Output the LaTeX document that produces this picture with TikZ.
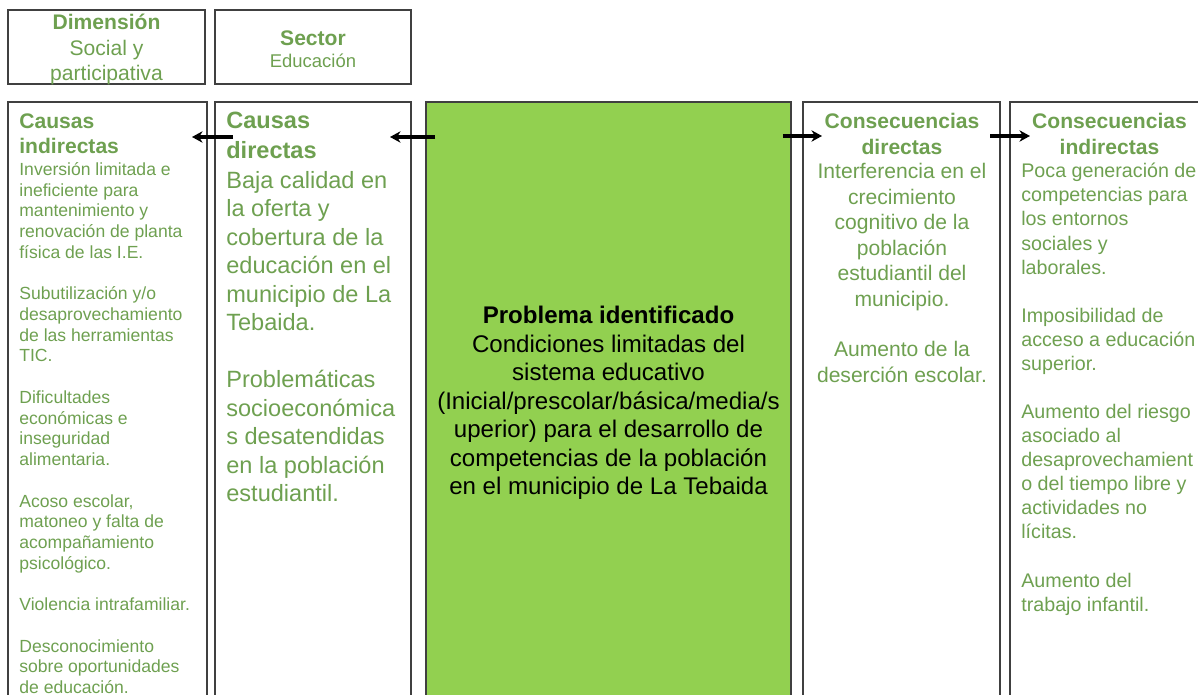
\documentclass[tikz,border=0pt]{standalone}
\usepackage{fontspec}
\setmainfont{Liberation Sans}
\usepackage{tikz}
\usetikzlibrary{arrows.meta}
\usetikzlibrary{calc}
\definecolor{txtgreen}{RGB}{110,160,80}
\definecolor{probgreen}{RGB}{146,208,80}
\tikzstyle{box}=[rectangle,draw=black!75,line width=0.8pt,anchor=north west,inner sep=0pt,outer sep=0pt]
\tikzstyle{greenbox}=[box,fill=probgreen]
\tikzstyle{heading}=[anchor=north,inner sep=0pt,align=center,text=txtgreen]
\tikzstyle{lefttext}=[anchor=north west,inner sep=0pt,align=left,text=txtgreen]
\tikzstyle{edge} = [draw,line width=1.8pt,-{Stealth[length=6pt,width=6.5pt]}]

\begin{document}
\begin{tikzpicture}[x=0.02cm,y=-0.02cm]
    \useasboundingbox (0,0) rectangle (1198,695);
    \clip (0,0) rectangle (1198,695);

    \foreach \pos/\name/\w/\h in {{(8,10)/dimbox/197/74}, {(215,10)/secbox/196/74}, {(8,102)/cibox/199/620}, {(215,102)/cdbox/196/620}, {(803,102)/cdirbox/197/620}, {(1010,102)/cindbox/220/620}}
        \node[box, minimum width=\w*0.02cm, minimum height=\h*0.02cm] (\name) at \pos {};

    \node[greenbox, minimum width=7.3cm, minimum height=12.4cm] (probbox) at (426,102) {};

    % top boxes
    \node[heading, font=\fontsize{12}{14.5}\selectfont] (dimtxt) at (106.5,14) {\textbf{Dimensión}\\Social y\\participativa};
    \node[heading, font=\bfseries\fontsize{12}{14.5}\selectfont] (sectit) at (313,30) {Sector};
    \node[heading, font=\fontsize{10.5}{13}\selectfont] (sectxt) at (313,54) {Educación};

    % causas
    \node[lefttext, font=\bfseries\fontsize{12}{14.2}\selectfont] (citit) at (19,113) {Causas\\indirectas};
    \node[lefttext, font=\fontsize{10}{11.8}\selectfont] (cibody) at (19,162) {Inversión limitada e\\ineficiente para\\mantenimiento y\\renovación de planta\\física de las I.E.\\[11.8pt]Subutilización y/o\\desaprovechamiento\\de las herramientas\\TIC.\\[11.8pt]Dificultades\\económicas e\\inseguridad\\alimentaria.\\[11.8pt]Acoso escolar,\\matoneo y falta de\\acompañamiento\\psicológico.\\[11.8pt]Violencia intrafamiliar.\\[11.8pt]Desconocimiento\\sobre oportunidades\\de educación.};

    \node[lefttext, font=\bfseries\fontsize{13.4}{17}\selectfont] (cdtit) at (226,112) {Causas\\directas};
    \node[lefttext, font=\fontsize{13.4}{16.2}\selectfont] (cdbody) at (226,171) {Baja calidad en\\la oferta y\\cobertura de la\\educación en el\\municipio de La\\Tebaida.\\[16.2pt]Problemáticas\\socioeconómica\\s desatendidas\\en la población\\estudiantil.};

    % problema
    \node[heading, text=black, font=\fontsize{13.7}{16.2}\selectfont] (probtxt) at (608.5,306) {\textbf{Problema identificado}\\Condiciones limitadas del\\sistema educativo\\(Inicial/prescolar/básica/media/s\\uperior) para el desarrollo de\\competencias de la población\\en el municipio de La Tebaida};

    % consecuencias
    \node[heading, font=\bfseries\fontsize{12}{14.6}\selectfont] (cdirtit) at (902,113) {Consecuencias\\directas};
    \node[heading, font=\fontsize{12}{14.5}\selectfont] (cdirbody) at (902,163) {Interferencia en el\\crecimiento\\cognitivo de la\\población\\estudiantil del\\municipio.\\[14.5pt]Aumento de la\\deserción escolar.};

    \node[heading, font=\bfseries\fontsize{12}{14.6}\selectfont] (cindtit) at (1109.5,113) {Consecuencias\\indirectas};
    \node[lefttext, font=\fontsize{11.2}{13.7}\selectfont] (cindbody) at (1021,163) {Poca generación de\\competencias para\\los entornos\\sociales y\\laborales.\\[13.7pt]Imposibilidad de\\acceso a educación\\superior.\\[13.7pt]Aumento del riesgo\\asociado al\\desaprovechamient\\o del tiempo libre y\\actividades no\\lícitas.\\[13.7pt]Aumento del\\trabajo infantil.};

    % arrows
    \path[edge] ([shift={(9,35)}]probbox.north west) -- ([shift={(-21,35)}]cdbox.north east);
    \path[edge] ([shift={(18,35)}]cdbox.north west) -- ([shift={(-15,35)}]cibox.north east);
    \path[edge] ([shift={(-8,34)}]probbox.north east) -- ([shift={(19,34)}]cdirbox.north west);
    \path[edge] ([shift={(-10,34)}]cdirbox.north east) -- ([shift={(20,34)}]cindbox.north west);
\end{tikzpicture}
\end{document}
